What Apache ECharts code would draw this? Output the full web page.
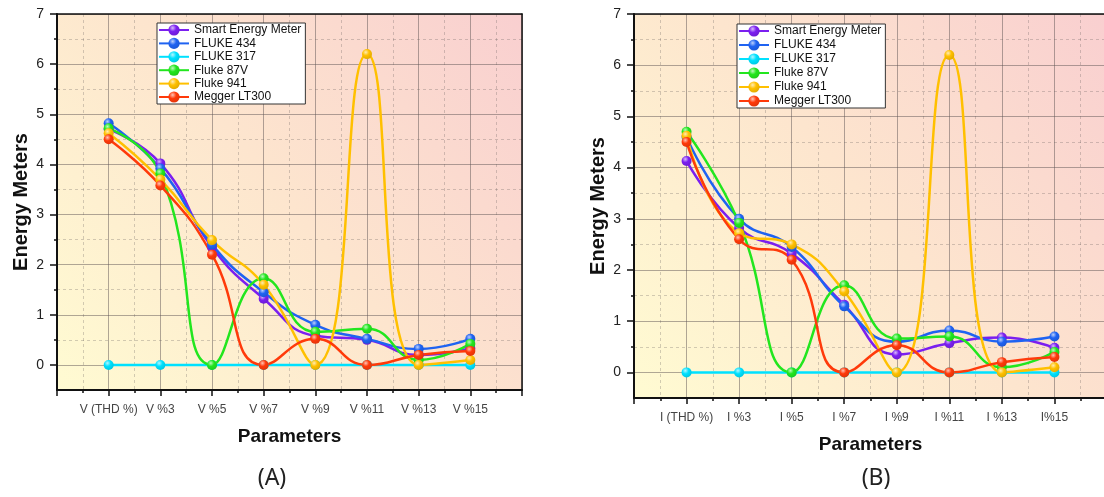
<!DOCTYPE html>
<html><head><meta charset="utf-8">
<script src="https://cdn.jsdelivr.net/npm/echarts@6/dist/echarts.min.js"></script>
<style>html,body{margin:0;padding:0;background:#fff}#c{width:1104px;height:497px}</style>
</head><body><div id="c"></div>
<script>
const seriesNames = ['Smart Energy Meter','FLUKE 434','FLUKE 317','Fluke 87V','Fluke 941','Megger LT300'];
const colors = ['#7B1FF0','#1F63F2','#00E1FF','#22E61E','#FFC000','#FF3A0A'];
const catsA = ['V (THD %)','V %3','V %5','V %7','V %9','V %11','V %13','V %15'];
const catsB = ['I (THD %)','I %3','I %5','I %7','I %9','I %11','I %13','I%15'];
const yTicks = [0,1,2,3,4,5,6,7];
const yMinorTicks = [0.5,1.5,2.5,3.5,4.5,5.5,6.5];

const smartA  = [4.70,4.02,2.35,1.32,0.58,0.50,0.20,0.33];
const f434A   = [4.82,3.92,2.40,1.45,0.80,0.52,0.32,0.52];
const f317A   = [0,0,0,0,0,0,0,0];
const f87A    = [4.72,3.82,0,1.73,0.66,0.72,0.10,0.42];
const f941A   = [4.62,3.70,2.49,1.60,0,6.20,0,0.10];
const meggerA = [4.50,3.58,2.20,0,0.52,0,0.20,0.28];

const smartB  = [4.13,2.82,2.32,1.32,0.35,0.57,0.68,0.48];
const f434B   = [4.60,3.00,2.45,1.29,0.60,0.82,0.60,0.70];
const f317B   = [0,0,0,0,0,0,0,0];
const f87B    = [4.70,2.92,0,1.70,0.66,0.70,0.10,0.40];
const f941B   = [4.62,2.72,2.50,1.58,0,6.20,0,0.10];
const meggerB = [4.50,2.60,2.20,0,0.53,0,0.20,0.30];

const panels = [
  {cats: catsA, data: [smartA,f434A,f317A,f87A,f941A,meggerA], grid:{left:57,top:14,width:465,height:376}, legend:{left:157,top:23,gap:1.4}, caption:{text:'(A)',x:272,y:478}},
  {cats: catsB, data: [smartB,f434B,f317B,f87B,f941B,meggerB], grid:{left:634,top:14,width:473,height:384}, legend:{left:737,top:24,gap:2}, caption:{text:'(B)',x:876,y:478}}
];

function hexToRgb(h){h=h.replace('#','');return [parseInt(h.slice(0,2),16),parseInt(h.slice(2,4),16),parseInt(h.slice(4,6),16)];}
function mix(c, m, t){const a=hexToRgb(c), b=hexToRgb(m);return 'rgb('+a.map((v,i)=>Math.round(v+(b[i]-v)*t)).join(',')+')';}
function ball(c){return {type:'radial',x:0.38,y:0.32,r:0.72,colorStops:[{offset:0,color:mix(c,'#ffffff',0.7)},{offset:0.45,color:c},{offset:1,color:mix(c,'#000000',0.12)}]};}

const FONT = '"Liberation Sans", Arial, sans-serif';
const majorGrid = {color:'rgba(95,85,85,0.5)', width:1};
const minorGrid = {color:'rgba(95,85,85,0.28)', width:1, type:[3,3]};

const option = {animation:false, grid:[], xAxis:[], yAxis:[], series:[], legend:[], graphic:[]};

panels.forEach((p, i) => {
  option.grid.push(Object.assign({show:true, borderWidth:0, containLabel:false, outerBoundsMode:'none',
    backgroundColor:{type:'linear',x:0,y:1,x2:1,y2:0,colorStops:[{offset:0,color:'#FFFBD2'},{offset:0.5,color:'#FDE5CE'},{offset:1,color:'#F9CFD0'}]}}, p.grid));
  const cats = p.cats;
  option.xAxis.push({
    type:'value', gridIndex:i, min:0, max:9, interval:1, position:'bottom',
    axisLine:{show:true, onZero:false, lineStyle:{color:'#111', width:2}},
    axisTick:{show:true, length:6, lineStyle:{color:'#111', width:1.5}},
    minorTick:{show:true, splitNumber:2, length:3, lineStyle:{color:'#111', width:1.5}},
    axisLabel:{formatter: v => (cats[v-1] !== undefined ? cats[v-1] : ''), margin:14, fontSize:12, color:'#444', fontFamily:FONT},
    splitLine:{show:true, lineStyle:majorGrid},
    minorSplitLine:{show:true, lineStyle:minorGrid},
    name:'Parameters', nameLocation:'middle', nameGap:37,
    nameTextStyle:{fontSize:19, fontWeight:'bold', color:'#111', fontFamily:FONT}
  });
  option.xAxis.push({
    type:'value', gridIndex:i, min:0, max:9, position:'top',
    axisLine:{show:true, onZero:false, lineStyle:{color:'#111', width:1.5}},
    axisTick:{show:false}, axisLabel:{show:false}, splitLine:{show:false}
  });
  option.yAxis.push({
    type:'value', gridIndex:i, min:-0.5, max:7, position:'left',
    axisLine:{show:true, onZero:false, lineStyle:{color:'#111', width:2}},
    axisTick:{show:true, length:7, customValues:yTicks, lineStyle:{color:'#111', width:1.5}},
    axisLabel:{customValues:yTicks, fontSize:14, color:'#222', margin:13, fontFamily:FONT},
    splitLine:{show:true, lineStyle:majorGrid},
    name:'Energy Meters', nameLocation:'middle', nameGap:26, nameRotate:90,
    nameTextStyle:{fontSize:20, fontWeight:'bold', color:'#111', fontFamily:FONT}
  });
  option.yAxis.push({
    type:'value', gridIndex:i, min:-0.5, max:7, position:'left',
    axisLine:{show:false},
    axisTick:{show:true, length:3, customValues:yMinorTicks, lineStyle:{color:'#111', width:1.5}},
    axisLabel:{show:false, customValues:yMinorTicks},
    splitLine:{show:true, lineStyle:minorGrid}
  });
  option.yAxis.push({
    type:'value', gridIndex:i, min:-0.5, max:7, position:'right',
    axisLine:{show:true, onZero:false, lineStyle:{color:'#111', width:1.5}},
    axisTick:{show:false}, axisLabel:{show:false}, splitLine:{show:false}
  });
  p.data.forEach((vals, k) => {
    option.series.push({
      type:'line', name:seriesNames[k], xAxisIndex:i*2, yAxisIndex:i*3,
      data: vals.map((v, j) => [j+1, v]),
      smooth:0.5, symbol:'circle', symbolSize:10, showSymbol:true,
      lineStyle:{color:colors[k], width:2.5},
      itemStyle:{color:ball(colors[k]), borderWidth:0},
      emphasis:{disabled:true}
    });
  });
  option.legend.push({
    data:seriesNames, left:p.legend.left, top:p.legend.top, orient:'vertical',
    itemWidth:30, itemHeight:14, itemGap:p.legend.gap, padding:[1,4,1,1],
    backgroundColor:'#fff', borderColor:'#333', borderWidth:1,
    textStyle:{fontSize:12, color:'#111', fontFamily:FONT}
  });
  option.graphic.push({type:'text', x:p.caption.x, y:p.caption.y,
    style:{text:p.caption.text, font:'23px "Noto Sans", "Open Sans", sans-serif', fill:'#222', align:'center', verticalAlign:'middle'}});
});

const chart = echarts.init(document.getElementById('c'), null, {renderer:'canvas'});
chart.setOption(option);
</script>
</body></html>
